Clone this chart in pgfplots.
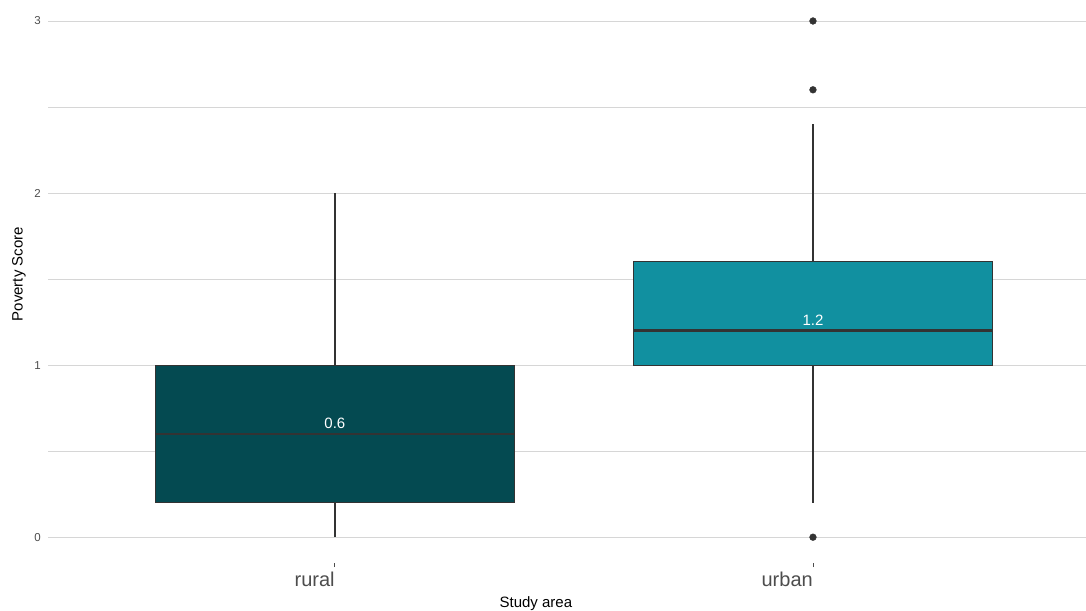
\documentclass[border=0pt]{standalone}
\usepackage{fontspec}
\setmainfont{Liberation Sans}
\usepackage{pgfplots}
\pgfplotsset{compat=1.18}
\usepgfplotslibrary{statistics}
\definecolor{rural}{HTML}{044A51}
\definecolor{urban}{HTML}{1190A0}
\definecolor{boxline}{HTML}{333333}
\definecolor{gridc}{HTML}{D6D6D6}
\definecolor{ticklab}{HTML}{4D4D4D}
\begin{document}
\begin{tikzpicture}
\useasboundingbox (0,0) rectangle (1086pt,610pt);
\begin{axis}[
  at={(48pt,47pt)}, anchor=south west,
  scale only axis, width=1038pt, height=563pt,
  xmin=0.4, xmax=2.571, ymin=-0.15, ymax=3.122,
  axis line style={draw=none},
  boxplot/draw direction=y,
  boxplot/every whisker/.style={line width=1.3pt},
  xtick={1,2}, xticklabels={rural,urban},
  ytick={0,1,2,3}, yticklabels={0,1,2,3}, minor ytick={0.5,1.5,2.5},
  ymajorgrids, yminorgrids,
  major grid style={gridc, line width=0.8pt},
  minor grid style={gridc, line width=0.7pt},
  tick pos=left,
  tick align=outside, major tick length=4pt,
  xtick style={ticklab, line width=0.9pt},
  ytick style={draw=none},
  xticklabel style={anchor=north east, font=\fontsize{20}{22}\selectfont, text=ticklab, inner sep=0pt, yshift=-5pt},
  yticklabel style={font=\fontsize{11.5}{14}\selectfont, text=ticklab, inner sep=0pt, anchor=east, xshift=-3pt},
  xlabel={Study area}, ylabel={Poverty Score},
  label style={font=\fontsize{15}{17}\selectfont, text=black},
  xlabel style={at={(axis description cs:0.470,0)}, anchor=center, yshift=-41pt},
  ylabel style={at={(axis description cs:-0.0279,0.513)}, anchor=center},
  clip=false,
]
\addplot[boxplot prepared={lower whisker=0, lower quartile=0.2, median=0.6,
    upper quartile=1, upper whisker=2, draw position=1, box extend=0.75, whisker extend=0},
  fill=rural, draw=boxline, line width=1.2pt] coordinates {};
\addplot[boxplot prepared={lower whisker=0.2, lower quartile=1, median=1.2,
    upper quartile=1.6, upper whisker=2.4, draw position=2, box extend=0.75, whisker extend=0},
  fill=urban, draw=boxline, line width=1.2pt] coordinates {};
% medians (thicker, as in ggplot)
\addplot[boxline, line width=2.6pt, mark=none] coordinates {(0.625,0.6) (1.375,0.6)};
\addplot[boxline, line width=2.6pt, mark=none] coordinates {(1.625,1.2) (2.375,1.2)};
\addplot[only marks, mark=*, mark size=3.4pt, boxline] coordinates {(2,3) (2,2.6) (2,0)};
\node[anchor=south, text=white, font=\fontsize{15}{17}\selectfont, yshift=2pt] at (axis cs:1,0.6) {0.6};
\node[anchor=south, text=white, font=\fontsize{15}{17}\selectfont, yshift=2pt] at (axis cs:2,1.2) {1.2};
\end{axis}
\end{tikzpicture}
\end{document}
